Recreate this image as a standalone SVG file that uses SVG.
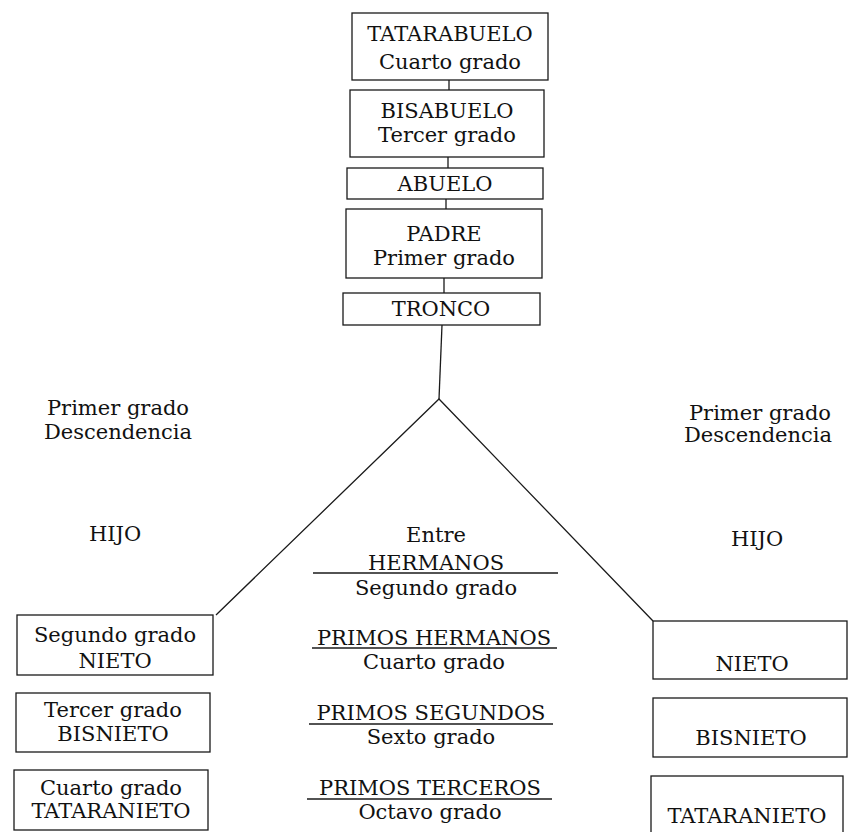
<svg xmlns="http://www.w3.org/2000/svg" width="849" height="832" viewBox="0 0 849 832">
<style>
  .box { fill: #fff; stroke: #1a1a1a; stroke-width: 1.3; }
  .ln { fill: none; stroke: #1a1a1a; stroke-width: 1.3; }
  text { font-family: "DejaVu Serif", "Liberation Serif", serif; font-size: 21px; fill: #111; text-anchor: middle; }
</style>
<rect width="849" height="832" fill="#fff"/>
<g id="connectors">
  <line class="ln" x1="449" y1="80" x2="449" y2="90"/>
  <line class="ln" x1="448" y1="157" x2="448" y2="168"/>
  <line class="ln" x1="446" y1="199" x2="446" y2="209"/>
  <line class="ln" x1="444" y1="278" x2="444" y2="293"/>
  <polyline class="ln" points="442,325 439,399"/>
  <polyline class="ln" points="216,615 439,399 653,621"/>
</g>
<g id="tatarabuelo">
  <rect class="box" x="352" y="13" width="196" height="67"/>
  <text x="450" y="41">TATARABUELO</text>
  <text x="450" y="69">Cuarto grado</text>
</g>
<g id="bisabuelo">
  <rect class="box" x="350" y="90" width="194" height="67"/>
  <text x="447" y="118">BISABUELO</text>
  <text x="447" y="142">Tercer grado</text>
</g>
<g id="abuelo">
  <rect class="box" x="347" y="168" width="196" height="31"/>
  <text x="445" y="191">ABUELO</text>
</g>
<g id="padre">
  <rect class="box" x="346" y="209" width="196" height="69"/>
  <text x="444" y="241">PADRE</text>
  <text x="444" y="265">Primer grado</text>
</g>
<g id="tronco">
  <rect class="box" x="343" y="293" width="197" height="32"/>
  <text x="441" y="316">TRONCO</text>
</g>
<g id="desc-izq">
  <text x="118" y="415">Primer grado</text>
  <text x="118" y="439">Descendencia</text>
</g>
<g id="hijo-izq">
  <text x="115" y="541">HIJO</text>
</g>
<g id="desc-der">
  <text x="760" y="420">Primer grado</text>
  <text x="758" y="442">Descendencia</text>
</g>
<g id="hijo-der">
  <text x="757" y="546">HIJO</text>
</g>
<g id="hermanos">
  <text x="436" y="542">Entre</text>
  <text x="436" y="570">HERMANOS</text>
  <line class="ln" x1="313" y1="573" x2="558" y2="573"/>
  <text x="436" y="595">Segundo grado</text>
</g>
<g id="primos-hermanos">
  <text x="434" y="645">PRIMOS HERMANOS</text>
  <line class="ln" x1="312" y1="648" x2="557" y2="648"/>
  <text x="434" y="669">Cuarto grado</text>
</g>
<g id="primos-segundos">
  <text x="431" y="720">PRIMOS SEGUNDOS</text>
  <line class="ln" x1="309" y1="724" x2="553" y2="724"/>
  <text x="431" y="744">Sexto grado</text>
</g>
<g id="primos-terceros">
  <text x="430" y="795">PRIMOS TERCEROS</text>
  <line class="ln" x1="307" y1="799" x2="552" y2="799"/>
  <text x="430" y="819">Octavo grado</text>
</g>
<g id="nieto-izq">
  <rect class="box" x="17" y="615" width="196" height="60"/>
  <text x="115" y="642">Segundo grado</text>
  <text x="115" y="668">NIETO</text>
</g>
<g id="bisnieto-izq">
  <rect class="box" x="16" y="693" width="194" height="59"/>
  <text x="113" y="717">Tercer grado</text>
  <text x="113" y="741">BISNIETO</text>
</g>
<g id="tataranieto-izq">
  <rect class="box" x="14" y="770" width="194" height="60"/>
  <text x="111" y="795">Cuarto grado</text>
  <text x="111" y="818">TATARANIETO</text>
</g>
<g id="nieto-der">
  <rect class="box" x="653" y="621" width="194" height="58"/>
  <text x="752" y="671">NIETO</text>
</g>
<g id="bisnieto-der">
  <rect class="box" x="653" y="698" width="194" height="59"/>
  <text x="751" y="745">BISNIETO</text>
</g>
<g id="tataranieto-der">
  <rect class="box" x="651" y="776" width="192" height="60"/>
  <text x="747" y="823">TATARANIETO</text>
</g>
</svg>
